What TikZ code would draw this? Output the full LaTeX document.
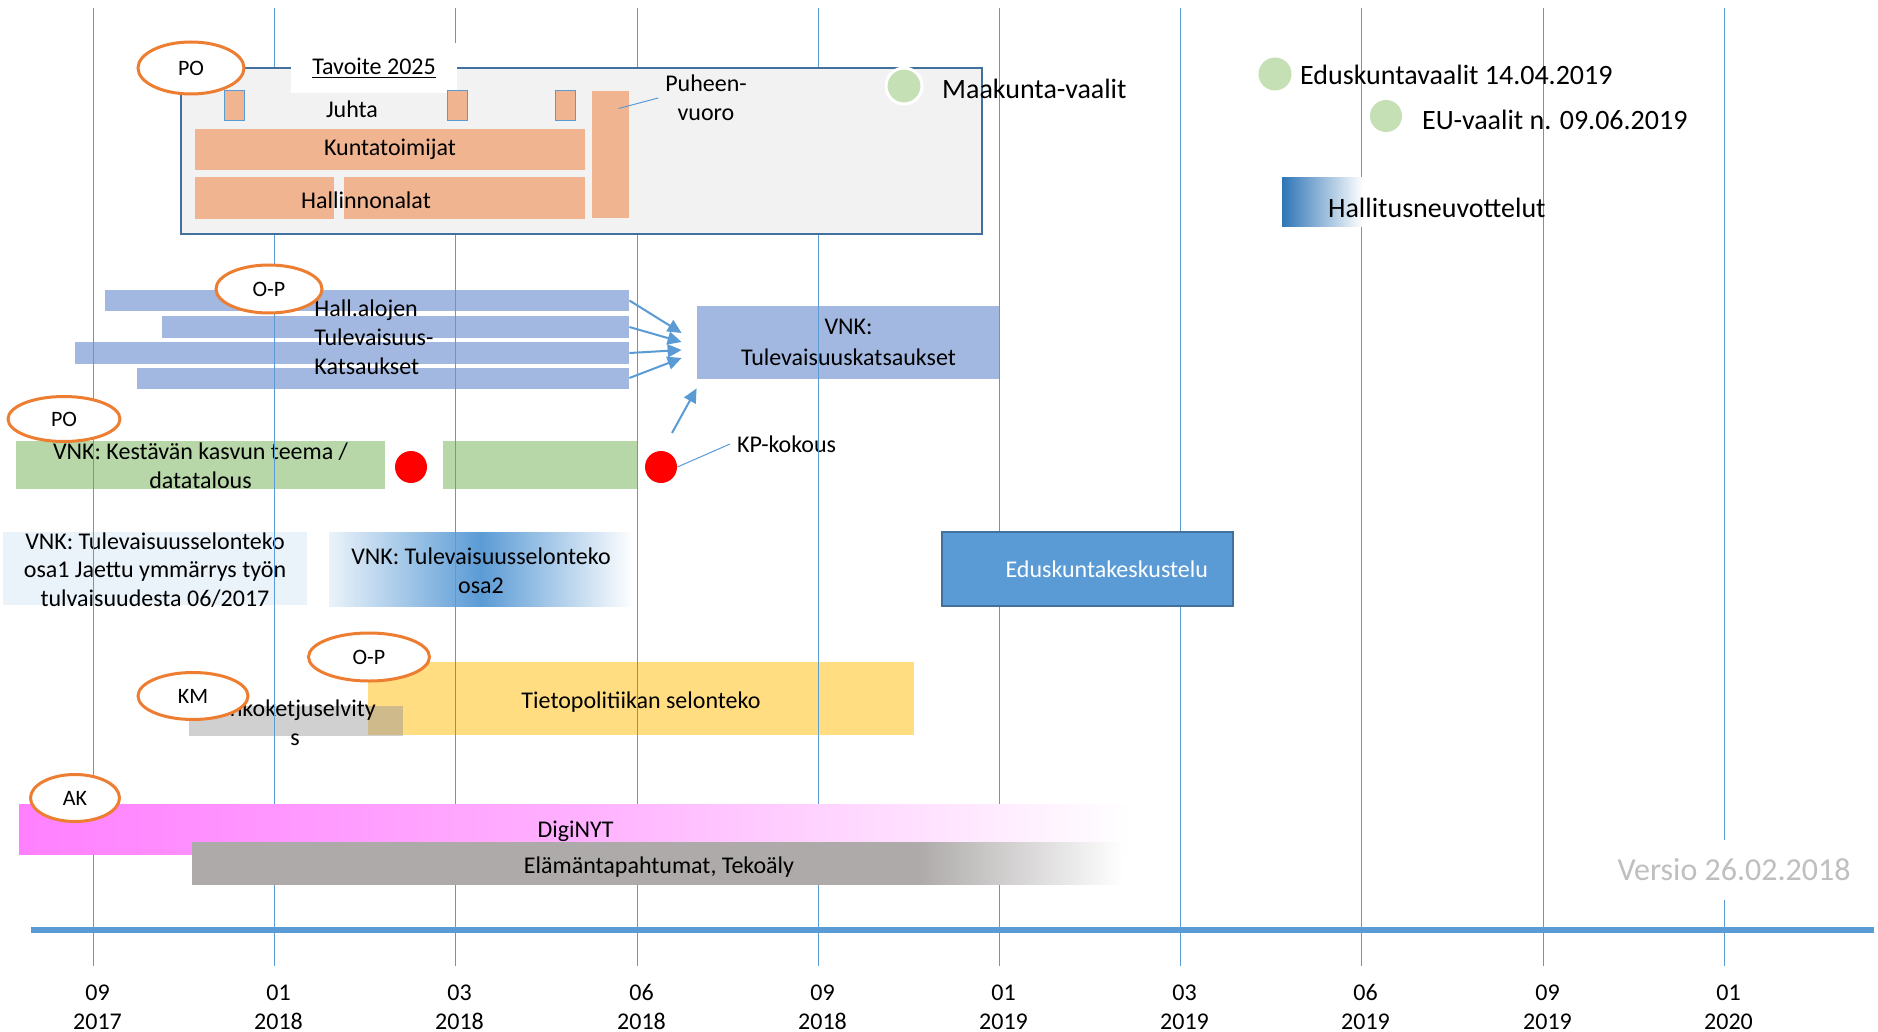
\documentclass[tikz,border=0pt]{standalone}
\usepackage{fontspec}
\setmainfont{Carlito}
\usetikzlibrary{shapes.geometric, arrows, arrows.meta, positioning}

\definecolor{gridblue}{HTML}{5B9BD5}
\definecolor{boxedge}{HTML}{41719C}
\definecolor{boxgray}{HTML}{F2F2F2}
\definecolor{salmon}{HTML}{F0B590}
\definecolor{orangeedge}{HTML}{ED7D31}
\definecolor{dotgreen}{HTML}{C5E0B4}
\definecolor{barblue}{HTML}{A2B8E0}
\definecolor{bargreen}{HTML}{B7D7A8}
\definecolor{paleblue}{HTML}{EBF3FA}
\definecolor{hallblue}{HTML}{2E75B6}
\definecolor{baryellow}{HTML}{FFDD80}
\definecolor{lightgraybar}{HTML}{D0D0D0}
\definecolor{tanoverlap}{HTML}{CFBA8B}
\definecolor{digipink}{HTML}{FF80FF}
\definecolor{digimid}{HTML}{FFB0FF}
\definecolor{elamagray}{HTML}{AEAAAA}
\definecolor{versiogray}{HTML}{BFBFBF}

\pgfdeclarehorizontalshading{elamafade}{100bp}{color(0bp)=(elamagray); color(25bp)=(elamagray); color(64bp)=(elamagray); color(75bp)=(white); color(100bp)=(white)}

\tikzstyle{fillbar} = [rectangle, inner sep=0pt, text centered]
\tikzstyle{owner} = [ellipse, draw=orangeedge, line width=1.5pt, fill=white, inner sep=0pt, font=\fontsize{11}{13}\selectfont]
\tikzstyle{evdot} = [circle, inner sep=0pt]
\tikzstyle{big} = [font=\fontsize{14}{16.8}\selectfont]
\tikzstyle{gridline} = [gridblue, line width=0.6pt]
\tikzstyle{pointer} = [gridblue, line width=0.5pt]
\tikzstyle{arrow} = [gridblue, line width=1pt, ->, >={Triangle[length=7pt, width=6.5pt]}]

\begin{document}
\begin{tikzpicture}[x=0.5pt, y=-0.5pt, node distance=6pt, font=\fontsize{12}{14.4}\selectfont]

\fill [white] (0,0) rectangle (1878,1032);
\useasboundingbox (0,0) rectangle (1878,1032);

%% BARS UNDER THE GRID

\node (hall_bar1) [fillbar, fill=barblue, minimum width=262pt, minimum height=10.5pt] at (367,300.5) {};
\node (hall_bar2) [fillbar, fill=barblue, minimum width=233.5pt, minimum height=11pt] at (395.5,327) {};
\node (hall_bar3) [fillbar, fill=barblue, minimum width=277pt, minimum height=11pt] at (352,353) {};
\node (hall_bar4) [fillbar, fill=barblue, minimum width=246pt, minimum height=10.5pt] at (383,378) {};
\node (hall_text) [align=left, anchor=west, inner sep=0pt] at (314,337) {Hall.alojen\\Tulevaisuus-\\Katsaukset};
\node (vnk_katsaus) [fillbar, fill=barblue, minimum width=151.5pt, minimum height=36.5pt] at (848.5,342.5) {};
\node (vnk_katsaus_text) [align=center] at (848.5,342.5) {VNK:\\[1.1pt]Tulevaisuuskatsaukset};

\node (kestava_bar1) [fillbar, fill=bargreen, minimum width=184.5pt, minimum height=24pt] at (200.5,465) {};
\node (kestava_text) [align=center] at (200.5,466) {VNK: Kestävän kasvun teema /\\datatalous};
\node (kestava_bar2) [fillbar, fill=bargreen, minimum width=97.5pt, minimum height=24pt] at (540.5,465) {};
\node (kp_dot1) [evdot, fill=red, minimum size=16pt] at (411,467) {};
\node (kp_dot2) [evdot, fill=red, minimum size=16pt] at (661,467) {};
\node (kp_text) [anchor=west] at (730,444) {KP-kokous};

\node (osa1_box) [fillbar, fill=paleblue, minimum width=152pt, minimum height=36.5pt] at (155,568.5) {};
\node (osa1_text) [align=center] at (155,570) {VNK: Tulevaisuusselonteko\\osa1 Jaettu ymmärrys työn\\tulvaisuudesta 06/2017};
\node (osa2_box) [fillbar, left color=paleblue, right color=white, middle color=gridblue, minimum width=152pt, minimum height=37pt] at (481,569) {};
\node (osa2_text) [align=center] at (481,571) {VNK: Tulevaisuusselonteko\\osa2};

\node (tieto_bar) [fillbar, fill=baryellow, minimum width=273pt, minimum height=36.5pt] at (641,698.5) {};
\node (tieto_text) at (641,702) {Tietopolitiikan selonteko};
\node (linko_bar) [fillbar, fill=lightgraybar, minimum width=107pt, minimum height=15pt] at (296,721) {};
\node (linko_overlap) [fillbar, fill=tanoverlap, minimum width=17.5pt, minimum height=14.5pt] at (385.5,720.5) {};
\node (linko_text) [align=center] at (295,723) {Linkoketjuselvity\\s};

%% GRID

\foreach \gx in {93.5, 274.5, 455.5, 637.5, 818.5, 999.5, 1180.5, 1361.5, 1543.5, 1724.5}
  \draw [gridline] (\gx,8) -- (\gx,966);

%% BOXES OVER THE GRID

\node (tavoite_box) [fillbar, fill=boxgray, draw=boxedge, line width=1.2pt, minimum width=400.5pt, minimum height=83pt] at (581.5,151) {};
\node (tavoite_label) [fillbar, fill=white, minimum width=83pt, minimum height=25pt] at (374,68) {\underline{Tavoite 2025}};
\node (juhta1) [fillbar, fill=salmon, draw=gridblue, line width=0.5pt, minimum width=10pt, minimum height=15pt] at (234,106) {};
\node (juhta2) [fillbar, fill=salmon, draw=gridblue, line width=0.5pt, minimum width=10pt, minimum height=15pt] at (457,106) {};
\node (juhta3) [fillbar, fill=salmon, draw=gridblue, line width=0.5pt, minimum width=10pt, minimum height=15pt] at (565,106) {};
\node (juhta_text) at (352,109) {Juhta};
\node (kunta_bar) [fillbar, fill=salmon, minimum width=195pt, minimum height=20.5pt] at (390,149.5) {Kuntatoimijat};
\node (hallinto_bar1) [fillbar, fill=salmon, minimum width=69.5pt, minimum height=21pt] at (264.5,198) {};
\node (hallinto_bar2) [fillbar, fill=salmon, minimum width=120.5pt, minimum height=21pt] at (464.5,198) {};
\node (hallinto_text) at (366,200) {Hallinnonalat};
\node (puhe_bar) [fillbar, fill=salmon, minimum width=18.5pt, minimum height=63.5pt] at (610.5,154.5) {};
\node (puhe_text) [align=center] at (706,98) {Puheen-\\vuoro};

\node (maakunta_dot) [evdot, fill=dotgreen, draw=white, line width=1.5pt, minimum size=18pt] at (904,86) {};
\node (maakunta_text) [big, right=5.8pt of maakunta_dot, yshift=-1.2pt] {Maakunta-vaalit};
\node (edus_dot) [evdot, fill=dotgreen, minimum size=16.5pt] at (1275,74) {};
\node (edus_text) [big, right=0.6pt of edus_dot, yshift=-0.6pt] {Eduskuntavaalit 14.04.2019};
\node (eu_dot) [evdot, fill=dotgreen, minimum size=16pt] at (1386,116) {};
\node (eu_text) [big, right=6.3pt of eu_dot, yshift=-1.8pt] {EU-vaalit n. 09.06.2019};

\node (hallitus_box) [fillbar, left color=hallblue, right color=white, minimum width=40.5pt, minimum height=24.5pt] at (1322.5,202.5) {};
\node (hallitus_text) [big, anchor=west] at (1321,208) {Hallitusneuvottelut};

\node (keskustelu_box) [fillbar, fill=gridblue, draw=boxedge, line width=1.2pt, text=white, text width=120.5pt, align=right, inner xsep=12.5pt, minimum height=37pt] at (1087.5,569) {Eduskuntakeskustelu};

\node (digi_bar) [fillbar, left color=digipink, right color=white, middle color=digimid, minimum width=556.5pt, minimum height=25pt] at (575.5,829) {};
\node (digi_text) at (575.5,831.5) {DigiNYT};
\node (elama_bar) [fillbar, shading=elamafade, minimum width=465.5pt, minimum height=21pt] at (657.5,863) {};
\node (elama_text) at (659,867) {Elämäntapahtumat, Tekoäly};

%% OWNERS

\node (po_top) [owner, minimum width=53pt, minimum height=26pt] at (191,68) {PO};
\node (op_top) [owner, minimum width=53pt, minimum height=24pt] at (269,289) {O-P};
\node (po_mid) [owner, minimum width=56pt, minimum height=22.5pt] at (64,419) {PO};
\node (op_low) [owner, minimum width=60.5pt, minimum height=24pt] at (369,657) {O-P};
\node (km) [owner, minimum width=55pt, minimum height=23.5pt] at (193,696) {KM};
\node (ak) [owner, minimum width=44.5pt, minimum height=23.5pt] at (75,798) {AK};

%% TIME AXIS

\node (versio) [fill=white, text=versiogray, font=\fontsize{16}{19}\selectfont, minimum height=30pt] at (1734,870) {Versio 26.02.2018};
\draw [gridblue, line width=3pt] (31,930) -- (1874,930);
\foreach \gx/\mon/\yr [count=\i from 0] in {93.5/09/2017, 274.5/01/2018, 455.5/03/2018, 637.5/06/2018, 818.5/09/2018, 999.5/01/2019, 1180.5/03/2019, 1361.5/06/2019, 1543.5/09/2019, 1724.5/01/2020}
  \node (tick_\i) [align=center] at (\gx+4,1007) {\mon\\\yr};

%% ARROWS

\draw [arrow] (hall_bar1.east) -- ([xshift=-7.5pt, yshift=4.75pt]vnk_katsaus.west);
\draw [arrow] (hall_bar2.east) -- ([xshift=-7.5pt, yshift=0.25pt]vnk_katsaus.west);
\draw [arrow] (hall_bar3.east) -- ([xshift=-7.5pt, yshift=-3.75pt]vnk_katsaus.west);
\draw [arrow] (hall_bar4.east) -- ([xshift=-7.5pt, yshift=-7.75pt]vnk_katsaus.west);
\draw [arrow] ([xshift=5.5pt, yshift=17pt]kp_dot2.center) -- ([yshift=-4.5pt]vnk_katsaus.south west);
\draw [pointer] (kp_dot2.east) -- (kp_text.west);
\draw [pointer] ([xshift=4pt, yshift=23pt]puhe_bar.center) -- (puhe_text.west);

\end{tikzpicture}
\end{document}
